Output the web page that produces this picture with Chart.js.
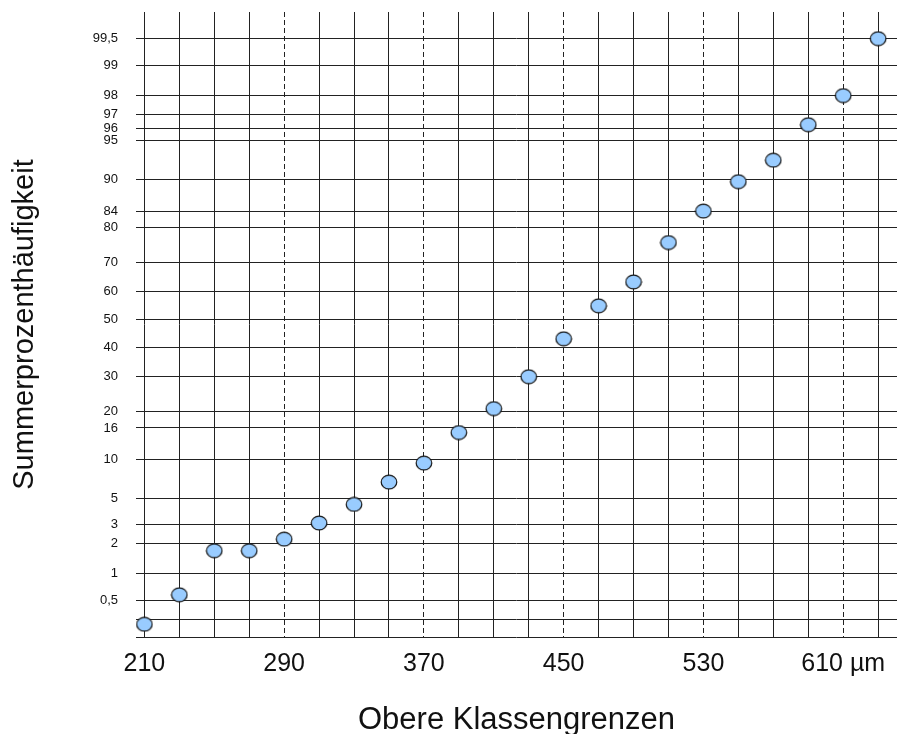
<!DOCTYPE html>
<html lang="de">
<head>
<meta charset="UTF-8">
<title>Summenkurve im Wahrscheinlichkeitsnetz</title>
<script src="https://cdn.jsdelivr.net/npm/chart.js"></script>
<style>
  html, body { margin: 0; padding: 0; background: #fff; }
  #wrap { width: 906px; height: 734px; }
</style>
</head>
<body>
<div id="wrap"><canvas id="chart"></canvas></div>
<script>
// upper class limits (µm) and cumulative percentage
const classLimits = [210, 230, 250, 270, 290, 310, 330, 350, 370, 390, 410,
                     430, 450, 470, 490, 510, 530, 550, 570, 590, 610, 630];
const cumPercent = [0.26, 0.58, 1.7, 1.7, 2.2, 3.1, 4.5, 6.8, 9.4, 15, 20.7,
                    30, 43, 55, 63.5, 76, 84, 89.7, 92.8, 96.3, 98, 99.5];

// probability axis (percent); first entry is the bottom edge line
const probTicks = [0.18, 0.3, 0.5, 1, 2, 3, 5, 10, 16, 20, 30, 40, 50, 60,
                   70, 80, 84, 90, 95, 96, 97, 98, 99, 99.5];
const probTickLabels = ['', '', '0,5', '1', '2', '3', '5', '10', '16', '20', '30', '40', '50', '60',
                        '70', '80', '84', '90', '95', '96', '97', '98', '99', '99,5'];
const yMin = 0.18, yMax = 99.76;

// x grid: labelled (dashed) lines and plain lines
const xLabelTicks = [210, 290, 370, 450, 530, 610];
const xTickLabels = ['210', '290', '370', '450', '530', '610 µm'];
const solidLines = [210, 230, 250, 270, 310, 330, 350, 390, 410, 430, 470,
                    490, 510, 550, 570, 590, 630];
const xMin = 205.2, xMax = 640.8;

// inverse normal CDF (Acklam), used for the probability scale
function probit(p) {
  const a = [-3.969683028665376e+01, 2.209460984245205e+02, -2.759285104469687e+02,
             1.383577518672690e+02, -3.066479806614716e+01, 2.506628277459239e+00];
  const b = [-5.447609879822406e+01, 1.615858368580409e+02, -1.556989798598866e+02,
             6.680131188771972e+01, -1.328068155288572e+01];
  const c = [-7.784894002430293e-03, -3.223964580411365e-01, -2.400758277161838e+00,
             -2.549732539343734e+00, 4.374664141464968e+00, 2.938163982698783e+00];
  const d = [7.784695709041462e-03, 3.224671290700398e-01, 2.445134137142996e+00,
             3.754408661907416e+00];
  const pl = 0.02425;
  if (p < pl) {
    const q = Math.sqrt(-2 * Math.log(p));
    return (((((c[0]*q + c[1])*q + c[2])*q + c[3])*q + c[4])*q + c[5]) /
           ((((d[0]*q + d[1])*q + d[2])*q + d[3])*q + 1);
  }
  if (p > 1 - pl) {
    const q = Math.sqrt(-2 * Math.log(1 - p));
    return -(((((c[0]*q + c[1])*q + c[2])*q + c[3])*q + c[4])*q + c[5]) /
            ((((d[0]*q + d[1])*q + d[2])*q + d[3])*q + 1);
  }
  const q = p - 0.5, r = q * q;
  return (((((a[0]*r + a[1])*r + a[2])*r + a[3])*r + a[4])*r + a[5]) * q /
         (((((b[0]*r + b[1])*r + b[2])*r + b[3])*r + b[4])*r + 1);
}

// oval marker
const dot = document.createElement('canvas');
dot.width = 18; dot.height = 16;
const dc = dot.getContext('2d');
dc.beginPath();
dc.ellipse(9, 8, 7.8, 6.9, 0, 0, Math.PI * 2);
dc.fillStyle = '#99ccff';
dc.fill();
dc.lineWidth = 1.2;
dc.strokeStyle = '#111';
dc.stroke();

Chart.defaults.font.family = "'Liberation Sans', Arial, sans-serif";

new Chart(document.getElementById('chart'), {
  type: 'scatter',
  data: {
    datasets: [{
      data: classLimits.map((x, i) => ({ x: x, y: probit(cumPercent[i] / 100) })),
      pointStyle: dot,
      pointRadius: 8,
      pointHoverRadius: 8,
      xAxisID: 'x',
      yAxisID: 'y'
    }]
  },
  options: {
    responsive: true,
    maintainAspectRatio: false,
    animation: false,
    layout: { padding: { top: 12, right: 8, left: 0, bottom: 0 } },
    plugins: { legend: { display: false }, tooltip: { enabled: false } },
    scales: {
      x: {
        type: 'linear', position: 'bottom', min: xMin, max: xMax,
        afterBuildTicks: s => { s.ticks = xLabelTicks.map(v => ({ value: v })); },
        afterFit: s => { s.height = 97; s.paddingLeft = 0; s.paddingRight = 0; },
        grid: {
          color: ctx => (ctx.tick && ctx.tick.value === 210) ? 'rgba(0,0,0,0)' : '#222',
          lineWidth: 1,
          drawTicks: false
        },
        border: { display: false, dash: [5, 3] },
        ticks: {
          padding: 12, color: '#111', font: { size: 25 }, autoSkip: false, maxRotation: 0,
          callback: (v, i) => xTickLabels[i]
        },
        title: {
          display: true, text: 'Obere Klassengrenzen', color: '#111',
          font: { size: 31, lineHeight: 0.9 }, padding: 0
        }
      },
      xg: {
        type: 'linear', position: 'bottom', min: xMin, max: xMax,
        afterBuildTicks: s => { s.ticks = solidLines.map(v => ({ value: v })); },
        afterFit: s => { s.height = 0; s.paddingLeft = 0; s.paddingRight = 0; },
        grid: { color: '#222', lineWidth: 1, drawTicks: false },
        border: { display: false },
        ticks: { display: false }
      },
      y: {
        type: 'linear', min: probit(yMin / 100), max: probit(yMax / 100),
        afterBuildTicks: s => { s.ticks = probTicks.map(p => ({ value: probit(p / 100) })); },
        afterFit: s => { s.width = 136; s.paddingTop = 0; s.paddingBottom = 0; },
        grid: { color: '#222', lineWidth: 1, drawTicks: false },
        border: { display: false },
        ticks: {
          padding: 18, color: '#111', font: { size: 13 }, autoSkip: false,
          callback: (v, i) => probTickLabels[i]
        },
        title: {
          display: true, text: 'Summerprozenthäufigkeit', color: '#111',
          font: { size: 29 }, padding: { top: 8, bottom: 0 }
        }
      }
    }
  }
});
</script>
</body>
</html>
